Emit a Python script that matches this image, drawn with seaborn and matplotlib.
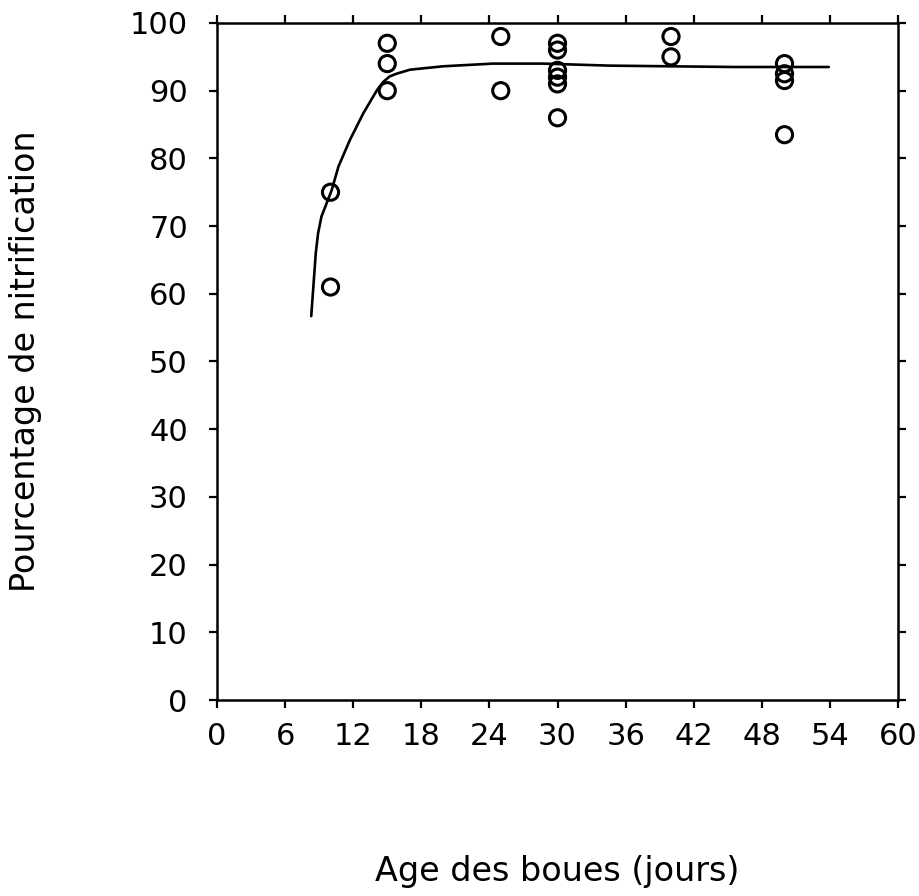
import numpy as np
import pandas as pd
import matplotlib
matplotlib.use("Agg")
import matplotlib.pyplot as plt
import seaborn as sns

# Measured nitrification percentages versus sludge age (days)
age_days = [10, 10, 15, 15, 15, 25, 25, 30, 30, 30, 30, 30, 30, 40, 40, 50, 50, 50, 50]
nitrification = [75, 61, 97, 94, 90, 98, 90, 97, 96, 93, 92, 91, 86, 98, 95, 94, 92.5, 91.5, 83.5]

# Fitted curve, sampled along its trace
fit_age = [8.3, 8.7, 8.9, 9.2, 10.1, 10.7, 11.7, 12.9, 14.1, 14.65, 15.2, 15.8, 17.0,
           19.9, 24.3, 28.7, 34.6, 40.0, 45.5, 53.9]
fit_pct = [56.7, 66.0, 68.9, 71.4, 75.3, 78.8, 82.7, 86.7, 90.1, 91.3, 92.1, 92.5, 93.1,
           93.6, 94.0, 94.0, 93.7, 93.6, 93.5, 93.5]

x_ticks = [0, 6, 12, 18, 24, 30, 36, 42, 48, 54, 60]
y_ticks = [0, 10, 20, 30, 40, 50, 60, 70, 80, 90, 100]

sns.set_theme(style="ticks")
plt.rcParams["font.family"] = ["DejaVu Sans"]

points = pd.DataFrame({"age": age_days, "pct": nitrification})
curve = pd.DataFrame({"age": fit_age, "pct": fit_pct})

fig = plt.figure(figsize=(9.2, 8.96), dpi=100)
ax = fig.add_axes([0.2359, 0.21875, 0.7402, 0.7556])

sns.lineplot(data=curve, x="age", y="pct", ax=ax, color="black", linewidth=1.9,
             sort=False, estimator=None)
sns.scatterplot(data=points, x="age", y="pct", ax=ax, marker="o", s=135,
                facecolor="none", edgecolor="black", linewidth=2.2, zorder=3)

ax.set_xlim(0, 60)
ax.set_ylim(0, 100)
ax.set_xticks(x_ticks)
ax.set_yticks(y_ticks)
ax.set_xticklabels([str(v) for v in x_ticks])
ax.set_yticklabels([str(v) for v in y_ticks])

for side in ["left", "right", "top", "bottom"]:
    ax.spines[side].set_visible(True)
    ax.spines[side].set_linewidth(1.8)
    ax.spines[side].set_color("black")

ax.tick_params(axis="both", which="major", direction="out", length=6, width=1.6,
               color="black", labelsize=22, labelcolor="black",
               top=True, right=True, labeltop=False, labelright=False)
ax.tick_params(axis="y", pad=15)
ax.tick_params(axis="x", pad=10)

ax.set_xlabel("Age des boues (jours)", fontsize=24, color="black")
ax.set_ylabel("Pourcentage de nitrification", fontsize=24, color="black")
ax.xaxis.set_label_coords(0.5, -0.229)
ax.yaxis.set_label_coords(-0.257, 0.5)

fig.savefig("out.png", dpi=100, facecolor="white")
